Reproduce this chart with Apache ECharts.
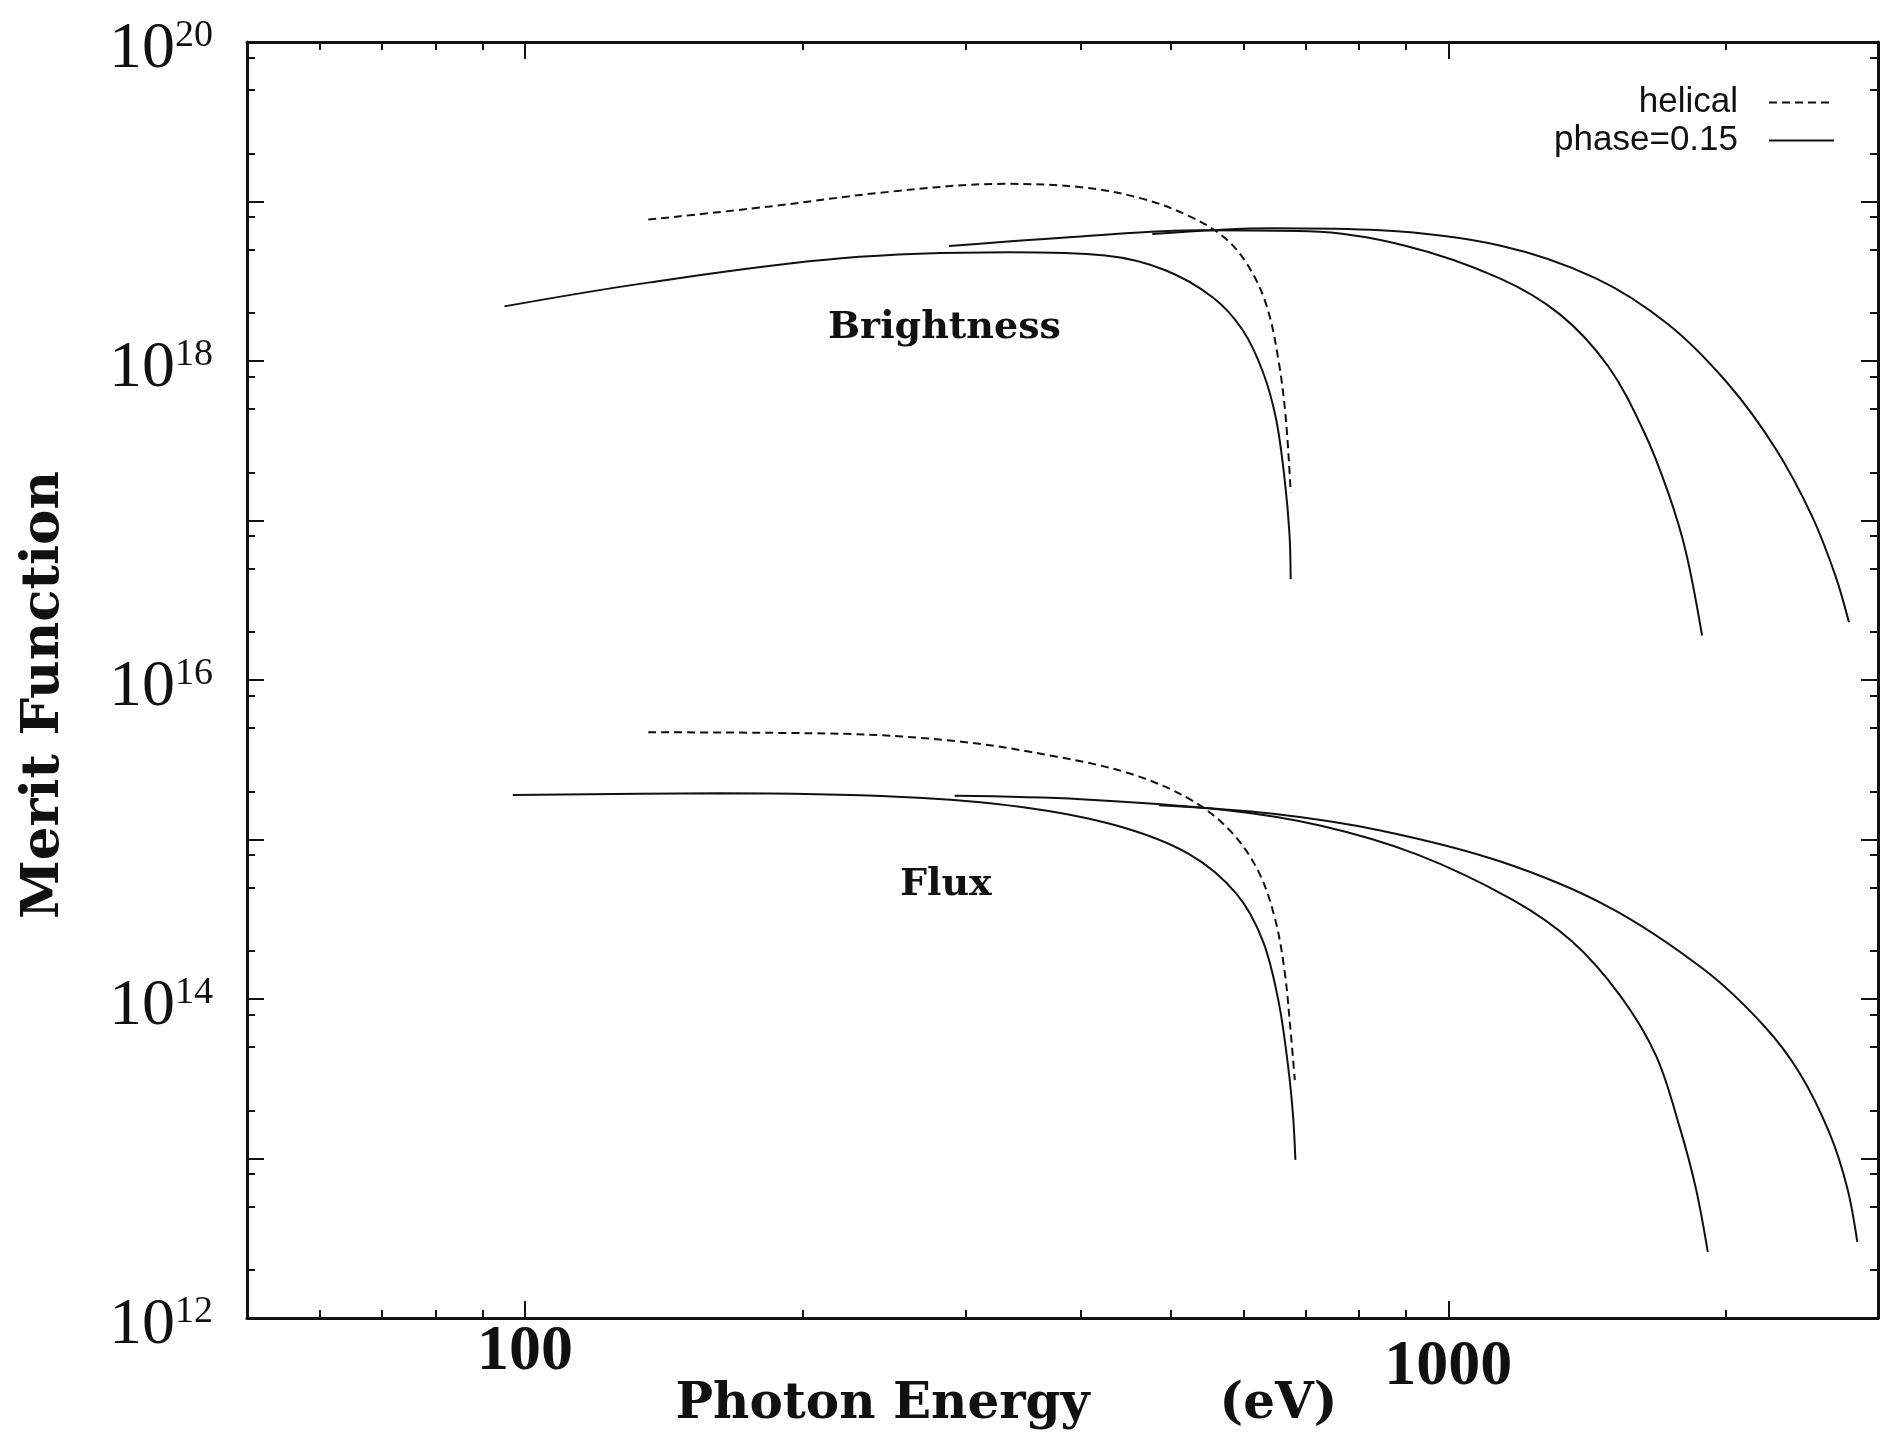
<!DOCTYPE html>
<html>
<head>
    <meta charset="utf-8">
    <title>Merit Function</title>
    <script src="https://cdn.jsdelivr.net/npm/echarts@6.0.0/dist/echarts.min.js"></script>
    <style>
        html, body { margin: 0; padding: 0; background: #fff; }
        #chart { width: 1881px; height: 1442px; }
    </style>
</head>
<body>
<div id="chart"></div>
<script>
    // photon energy (eV) and merit function
    var brightHelicalE = [136, 184, 248, 330, 400, 464, 524, 573, 608, 636, 655, 667, 675];
    var brightHelicalM = [7.7e18, 9.3e18, 1.15e19, 1.29e19, 1.23e19, 1.05e19, 8.1e18, 5.9e18, 3.9e18, 2.2e18, 1.0e18, 4.3e17, 1.5e17];

    var brightPhaseAE = [95, 136, 220, 334, 425, 493, 556, 599, 630, 651, 665, 673, 675];
    var brightPhaseAM = [2.2e18, 3.1e18, 4.4e18, 4.8e18, 4.58e18, 3.72e18, 2.5e18, 1.56e18, 8.5e17, 4.3e17, 1.8e17, 8.2e16, 4.3e16];

    var brightPhaseBE = [288, 400, 540, 706, 896, 1137, 1321, 1489, 1629, 1730, 1808, 1883];
    var brightPhaseBM = [5.26e18, 6.04e18, 6.6e18, 6.5e18, 5.3e18, 3.3e18, 1.96e18, 9.3e17, 3.6e17, 1.5e17, 6.4e16, 1.9e16];

    var brightPhaseCE = [478, 646, 844, 1137, 1445, 1730, 2009, 2264, 2476, 2626, 2716];
    var brightPhaseCM = [6.25e18, 6.8e18, 6.6e18, 5.3e18, 3.3e18, 1.7e18, 7.2e17, 2.8e17, 1.07e17, 4.5e16, 2.3e16];

    var fluxHelicalE = [136, 220, 297, 377, 451, 524, 580, 622, 649, 665, 675, 682];
    var fluxHelicalM = [4.7e15, 4.6e15, 4.1e15, 3.3e15, 2.6e15, 1.8e15, 1.14e15, 6.4e14, 3.2e14, 1.48e14, 6.2e13, 3.1e13];

    var fluxPhaseAE = [97, 163, 256, 345, 438, 524, 590, 630, 655, 671, 679, 683];
    var fluxPhaseAM = [1.9e15, 1.95e15, 1.85e15, 1.6e15, 1.22e15, 8.1e14, 4.55e14, 2.3e14, 9.6e13, 3.7e13, 1.85e13, 9.8e12];

    var fluxPhaseBE = [292, 400, 573, 728, 923, 1173, 1361, 1535, 1679, 1782, 1854, 1910];
    var fluxPhaseBM = [1.88e15, 1.79e15, 1.53e15, 1.22e15, 8.1e14, 4.2e14, 2.3e14, 1.05e14, 4.4e13, 1.55e13, 6.5e12, 2.6e12];

    var fluxPhaseCE = [486, 646, 844, 1137, 1489, 1892, 2197, 2404, 2589, 2705, 2773];
    var fluxPhaseCM = [1.64e15, 1.45e15, 1.14e15, 7.3e14, 3.8e14, 1.53e14, 6.8e13, 3.4e13, 1.43e13, 6.5e12, 3.0e12];

    // axis ticks
    var xMajorTicks = [100, 1000];
    var xMinorTicks = [60, 70, 80, 90, 200, 300, 400, 500, 600, 700, 800, 900, 2000];
    var yDecades = [12, 13, 14, 15, 16, 17, 18, 19, 20];
    var yLabelDecades = [12, 14, 16, 18, 20];
    var yMinorFactors = [2, 5, 8];

    var xMin = 50, xMax = 2920;

    function pairs(xs, ys) {
        return xs.map(function (x, i) { return [x, ys[i]]; });
    }

    var yMinorTicks = [];
    yDecades.slice(0, -1).forEach(function (d) {
        yMinorFactors.forEach(function (f) { yMinorTicks.push(d + Math.log10(f)); });
    });

    var serif = 'Liberation Serif';
    var titleFont = 'DejaVu Serif';

    function lineSeries(name, xs, ys, dashed) {
        return {
            name: name,
            type: 'line',
            xAxisIndex: 0,
            yAxisIndex: 0,
            data: pairs(xs, ys),
            symbol: 'none',
            smooth: 0.35,
            lineStyle: { color: '#111', width: 2, type: dashed ? [8, 5] : 'solid' },
            itemStyle: { color: '#111' },
            emphasis: { disabled: true }
        };
    }

    // tick-only axes living in log10 space on the same grid
    function tickAxis(pos, isX, values, len, withLine) {
        return {
            type: 'value',
            position: pos,
            min: isX ? Math.log10(xMin) : 12,
            max: isX ? Math.log10(xMax) : 20,
            axisLine: { show: !!withLine, onZero: false, lineStyle: { color: '#111', width: 3 } },
            axisTick: { show: true, inside: true, length: len, customValues: values,
                lineStyle: { color: '#111', width: 2 } },
            axisLabel: { show: false },
            splitLine: { show: false }
        };
    }

    var chart = echarts.init(document.getElementById('chart'));

    var option = {
        animation: false,
        backgroundColor: '#fff',
        grid: { left: 247, right: 3, top: 42, bottom: 124 },
        legend: {
            data: ['helical', 'phase=0.15'],
            orient: 'vertical',
            align: 'right',
            right: 41,
            top: 80,
            itemWidth: 65,
            itemHeight: 14,
            itemGap: 3,
            itemStyle: { opacity: 0 },
            textStyle: { fontFamily: 'Liberation Sans', fontSize: 35, color: '#111', lineHeight: 35,
                padding: [0, 26, 0, 0] }
        },
        xAxis: [
            {
                type: 'log', min: xMin, max: xMax, position: 'bottom',
                axisLine: { show: true, onZero: false, lineStyle: { color: '#111', width: 3 } },
                axisTick: { show: false }, axisLabel: { show: false }, splitLine: { show: false },
                name: '{t|Photon Energy}{g|}{t|(eV)}',
                nameLocation: 'middle',
                nameGap: 62,
                nameTextStyle: {
                    padding: [0, 112, 0, 0],
                    rich: {
                        t: { fontFamily: titleFont, fontWeight: 'bold', fontSize: 50, color: '#111' },
                        g: { width: 130 }
                    }
                }
            },
            (function () {
                var a = tickAxis('bottom', true, xMajorTicks.map(Math.log10), 17, false);
                a.axisLabel = {
                    show: true,
                    customValues: xMajorTicks.map(Math.log10),
                    margin: 2,
                    formatter: function (v) {
                        var n = Math.round(Math.pow(10, v));
                        return n === 1000 ? '{lo|' + n + '}' : '{hi|' + n + '}';
                    },
                    rich: {
                        hi: { fontFamily: serif, fontWeight: 'bold', fontSize: 64, color: '#111' },
                        lo: { fontFamily: serif, fontWeight: 'bold', fontSize: 64, color: '#111', padding: [15, 0, 0, 0] }
                    }
                };
                return a;
            })(),
            tickAxis('bottom', true, xMinorTicks.map(Math.log10), 8, false),
            tickAxis('top', true, xMajorTicks.map(Math.log10), 17, true),
            tickAxis('top', true, xMinorTicks.map(Math.log10), 8, false)
        ],
        yAxis: [
            {
                type: 'log', min: 1e12, max: 1e20, position: 'left',
                axisLine: { show: true, onZero: false, lineStyle: { color: '#111', width: 3 } },
                axisTick: { show: false }, axisLabel: { show: false }, splitLine: { show: false },
                name: 'Merit Function',
                nameLocation: 'middle',
                nameRotate: 90,
                nameGap: 176,
                nameTextStyle: { fontFamily: titleFont, fontWeight: 'bold', fontSize: 53, color: '#111',
                    padding: [0, 30, 0, 0] }
            },
            (function () {
                var a = tickAxis('left', false, yDecades, 17, false);
                a.axisLabel = {
                    show: true,
                    customValues: yLabelDecades,
                    margin: 34,
                    padding: [16, 0, 0, 0],
                    formatter: function (v) { return '{b|10}{s|' + v + '}'; },
                    rich: {
                        b: { fontFamily: serif, fontSize: 66, color: '#111' },
                        s: { fontFamily: serif, fontSize: 38, color: '#111', verticalAlign: 'top' }
                    }
                };
                return a;
            })(),
            tickAxis('left', false, yMinorTicks, 8, false),
            tickAxis('right', false, yDecades, 17, true),
            tickAxis('right', false, yMinorTicks, 8, false)
        ],
        graphic: [
            {
                type: 'text', left: 828, top: 309,
                style: { text: 'Brightness', font: 'bold 38px "DejaVu Serif"', fill: '#111' }
            },
            {
                type: 'text', left: 900, top: 866,
                style: { text: 'Flux', font: 'bold 38px "DejaVu Serif"', fill: '#111' }
            }
        ],
        series: [
            lineSeries('helical', brightHelicalE, brightHelicalM, true),
            lineSeries('phase=0.15', brightPhaseAE, brightPhaseAM, false),
            lineSeries('phase=0.15', brightPhaseBE, brightPhaseBM, false),
            lineSeries('phase=0.15', brightPhaseCE, brightPhaseCM, false),
            lineSeries('helical', fluxHelicalE, fluxHelicalM, true),
            lineSeries('phase=0.15', fluxPhaseAE, fluxPhaseAM, false),
            lineSeries('phase=0.15', fluxPhaseBE, fluxPhaseBM, false),
            lineSeries('phase=0.15', fluxPhaseCE, fluxPhaseCM, false)
        ]
    };

    chart.setOption(option);
</script>
</body>
</html>
